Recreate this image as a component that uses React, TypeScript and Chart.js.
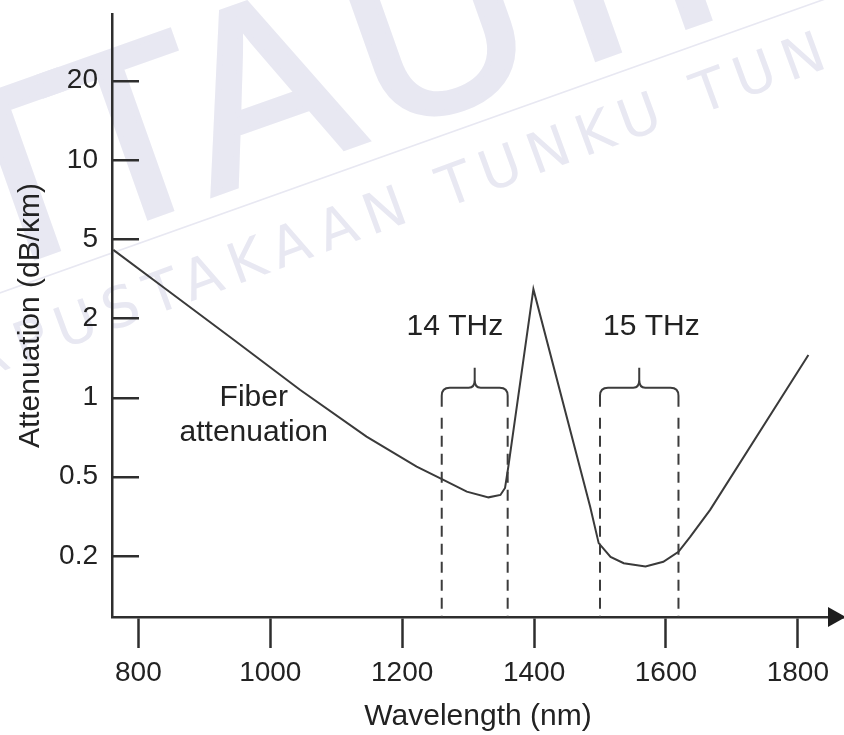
import React, { useEffect, useRef } from 'react';
import { Chart, registerables } from 'chart.js';

Chart.register(...registerables);

// ---- data ----
const WAVELENGTH_NM = [762, 843, 944, 1045, 1146, 1222, 1258, 1298, 1331, 1349, 1356, 1361, 1399, 1485, 1498, 1516, 1536, 1569, 1596, 1619, 1637, 1667, 1816];
const ATTENUATION_DB_KM = [4.41, 2.78, 1.66, 1.07, 0.71, 0.546, 0.491, 0.421, 0.394, 0.405, 0.439, 0.546, 2.8, 0.354, 0.232, 0.198, 0.184, 0.177, 0.187, 0.21, 0.25, 0.341, 1.45];

const X_TICKS = [800, 1000, 1200, 1400, 1600, 1800];
const Y_TICK_VALUES = [0.2, 0.5, 1, 2, 5, 10, 20];
const Y_TICK_LABELS = ['0.2', '0.5', '1', '2', '5', '10', '20'];

const BAND_14THZ = [1260, 1360];
const BAND_15THZ = [1500, 1619];
const BAND_LABELS = ['14 THz', '15 THz'];
const CURVE_LABEL = ['Fiber', 'attenuation'];

const X_TITLE = 'Wavelength (nm)';
const Y_TITLE = 'Attenuation (dB/km)';

const WM_BIG = ['P', 'T', 'T', 'A', 'U', 'T', 'H', 'M'];
const WM_SMALL = 'PERPUSTAKAAN TUNKU TUN AMINAH';

// map attenuation to the evenly spaced tick index (log interpolation between ticks)
function toIdx(v: number): number {
  const t = Y_TICK_VALUES;
  let k = 0;
  while (k < t.length - 2 && v > t[k + 1]) k++;
  return k + Math.log(v / t[k]) / Math.log(t[k + 1] / t[k]);
}

const FONT = '"Liberation Sans", Arial, Helvetica, sans-serif';
const INK = '#222';
const AXIS = '#2e2e2e';
const WM = 'rgb(232,232,242)';

const overlay = {
  id: 'overlay',
  beforeDraw(chart: any) {
    const ctx = chart.ctx as CanvasRenderingContext2D;
    ctx.save();
    ctx.fillStyle = '#fff';
    ctx.fillRect(0, 0, chart.width, chart.height);
    // watermark: big letters
    const angB = (-19.5 * Math.PI) / 180;
    const cb = Math.cos(angB), sb = Math.sin(angB);
    ctx.fillStyle = WM;
    ctx.strokeStyle = WM;
    ctx.font = `245px ${FONT}`;
    ctx.textAlign = 'center';
    ctx.textBaseline = 'alphabetic';
    ctx.lineWidth = 6;
    ctx.lineJoin = 'miter';
    const bigD = [-270, -120, 0, 138, 322, 475, 628, 808];
    WM_BIG.forEach((ch, i) => {
      ctx.save();
      ctx.translate(160 + bigD[i] * cb, 213 + bigD[i] * sb);
      ctx.rotate(angB);
      ctx.fillText(ch, 0, 0);
      ctx.strokeText(ch, 0, 0);
      ctx.restore();
    });
    // small text + rule
    const ang = (-20.2 * Math.PI) / 180;
    ctx.save();
    ctx.translate(462, 202);
    ctx.rotate(ang);
    ctx.font = `56px "DejaVu Sans", sans-serif`;
    (ctx as any).letterSpacing = '10px';
    ctx.textAlign = 'left';
    const pre = ctx.measureText('PERPUSTAKAAN ').width;
    const tw = ctx.measureText('T').width - 10;
    ctx.fillText(WM_SMALL, -pre - tw / 2, 0);
    (ctx as any).letterSpacing = '0px';
    ctx.restore();
    ctx.save();
    ctx.translate(300, 186);
    ctx.rotate((-19.6 * Math.PI) / 180);
    ctx.lineWidth = 1.6;
    ctx.beginPath();
    ctx.moveTo(-600, 0);
    ctx.lineTo(900, 0);
    ctx.stroke();
    ctx.restore();
    ctx.restore();
  },
  afterDraw(chart: any) {
    const ctx = chart.ctx as CanvasRenderingContext2D;
    const xs = chart.scales.x;
    const ys = chart.scales.y;
    const area = chart.chartArea;
    ctx.save();
    // y tick marks (inside)
    ctx.strokeStyle = AXIS;
    ctx.lineWidth = 2.5;
    Y_TICK_VALUES.forEach((_, i) => {
      const y = Math.round(ys.getPixelForValue(i)) + 0.25;
      ctx.beginPath();
      ctx.moveTo(area.left, y);
      ctx.lineTo(area.left + 27, y);
      ctx.stroke();
    });
    // arrow head on x axis
    const ay = xs.top;
    ctx.fillStyle = '#1e1e1e';
    ctx.beginPath();
    ctx.moveTo(846, ay);
    ctx.lineTo(828, ay - 10);
    ctx.lineTo(828, ay + 10);
    ctx.closePath();
    ctx.fill();

    // braces + dashed lines
    const braceY = ys.getPixelForValue(toIdx(1.09));
    [BAND_14THZ, BAND_15THZ].forEach((band) => {
      const xl = xs.getPixelForValue(band[0]);
      const xr = xs.getPixelForValue(band[1]);
      const xm = (xl + xr) / 2;
      const r = 8;
      ctx.strokeStyle = '#3c3c3c';
      ctx.lineWidth = 2;
      ctx.setLineDash([]);
      ctx.beginPath();
      ctx.moveTo(xl, braceY + 19);
      ctx.lineTo(xl, braceY + r);
      ctx.quadraticCurveTo(xl, braceY, xl + r, braceY);
      ctx.lineTo(xm - 6, braceY);
      ctx.quadraticCurveTo(xm, braceY, xm, braceY - 8);
      ctx.lineTo(xm, braceY - 20);
      ctx.moveTo(xm, braceY - 8);
      ctx.quadraticCurveTo(xm, braceY, xm + 6, braceY);
      ctx.lineTo(xr - r, braceY);
      ctx.quadraticCurveTo(xr, braceY, xr, braceY + r);
      ctx.lineTo(xr, braceY + 19);
      ctx.stroke();
      ctx.setLineDash([11, 7]);
      [xl, xr].forEach((x) => {
        ctx.beginPath();
        ctx.moveTo(x, braceY + 30);
        ctx.lineTo(x, area.bottom);
        ctx.stroke();
      });
    });
    ctx.setLineDash([]);

    // labels
    ctx.fillStyle = INK;
    ctx.font = `30px ${FONT}`;
    ctx.textAlign = 'center';
    ctx.textBaseline = 'middle';
    const ly = ys.getPixelForValue(toIdx(1.85));
    ctx.fillText(BAND_LABELS[0], xs.getPixelForValue(1280), ly);
    ctx.fillText(BAND_LABELS[1], xs.getPixelForValue(1578), ly);
    const fx = xs.getPixelForValue(975);
    const fy = ys.getPixelForValue(toIdx(1.0));
    ctx.fillText(CURVE_LABEL[0], fx, fy);
    ctx.fillText(CURVE_LABEL[1], fx, fy + 35);
    ctx.restore();
  },
};

export default function App() {
  const ref = useRef<HTMLCanvasElement>(null);
  useEffect(() => {
    const canvas = ref.current!;
    const chart = new Chart(canvas, {
      type: 'line',
      data: {
        datasets: [
          {
            data: WAVELENGTH_NM.map((x, i) => ({ x, y: toIdx(ATTENUATION_DB_KM[i]) })),
            borderColor: '#3a3a3a',
            borderWidth: 2,
            pointRadius: 0,
            tension: 0,
            fill: false,
          },
        ],
      },
      options: {
        animation: false,
        responsive: false,
        maintainAspectRatio: false,
        layout: { padding: { top: 14, left: 0, right: 0, bottom: 0 } },
        plugins: { legend: { display: false }, tooltip: { enabled: false } },
        scales: {
          x: {
            type: 'linear',
            min: 760,
            max: 1870,
            afterBuildTicks: (sc: any) => {
              sc.ticks = X_TICKS.map((v) => ({ value: v }));
            },
            afterFit: (sc: any) => {
              sc.height = 118;
              sc.paddingLeft = 0;
              sc.paddingRight = 0;
            },
            ticks: {
              callback: (v: any) => String(v),
              font: { family: FONT, size: 28 },
              color: INK,
              padding: 8,
              maxRotation: 0,
              autoSkip: false,
            },
            grid: {
              display: true,
              drawOnChartArea: false,
              drawTicks: true,
              tickLength: 31,
              tickWidth: 2.5,
              tickColor: AXIS,
            },
            border: { display: true, color: AXIS, width: 2.5 },
            title: {
              display: true,
              text: X_TITLE,
              font: { family: FONT, size: 30 },
              color: INK,
              padding: { top: 0, bottom: 0 },
            },
          },
          y: {
            type: 'linear',
            min: -0.77,
            max: 6.84,
            afterBuildTicks: (sc: any) => {
              sc.ticks = Y_TICK_VALUES.map((_, i) => ({ value: i }));
            },
            afterFit: (sc: any) => {
              sc.width = 112;
              sc.paddingTop = 0;
              sc.paddingBottom = 0;
            },
            ticks: {
              callback: (v: any) => Y_TICK_LABELS[v] ?? '',
              font: { family: FONT, size: 28 },
              color: INK,
              padding: 14,
              autoSkip: false,
            },
            grid: { display: true, drawOnChartArea: false, drawTicks: false },
            border: { display: true, color: AXIS, width: 2.5 },
            title: {
              display: true,
              text: Y_TITLE,
              font: { family: FONT, size: 30 },
              color: INK,
              padding: { top: 13, bottom: 0 },
            },
          },
        },
      },
      plugins: [overlay],
    } as any);
    return () => chart.destroy();
  }, []);
  return (
    <div style={{ position: 'fixed', left: 0, top: 0, width: 844, height: 735, background: '#fff' }}>
      <canvas ref={ref} width={844} height={735} style={{ display: 'block', width: 844, height: 735 }} />
    </div>
  );
}
